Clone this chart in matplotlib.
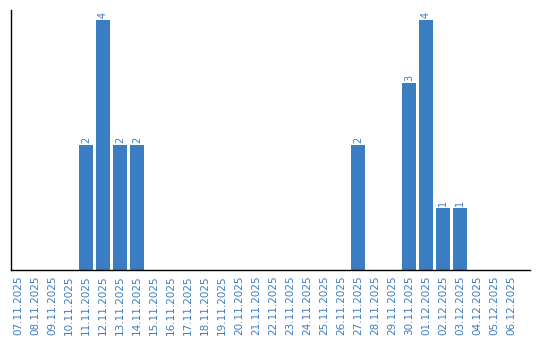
import pandas as pd
import matplotlib
matplotlib.use("Agg")
import matplotlib.pyplot as plt

# 日期标签与数值
dates = pd.date_range("2025-11-07", "2025-12-06").strftime("%d.%m.%Y").tolist()
counts = [0, 0, 0, 0, 2, 4, 2, 2, 0, 0,
          0, 0, 0, 0, 0, 0, 0, 0, 0, 0,
          2, 0, 0, 3, 4, 1, 1, 0, 0, 0]

bar_color = "#3b7dc1"

fig = plt.figure(figsize=(5.4, 3.4), dpi=100)
ax = fig.add_axes([11 / 540, 70 / 340, 519 / 540, 260 / 340])

x = list(range(len(dates)))
ax.bar(x, counts, width=0.82, color=bar_color)

# 柱顶数值
for xi, v in zip(x, counts):
    if v > 0:
        ax.text(xi, v + 0.03, str(v), rotation=90, ha="center", va="bottom",
                fontsize=7, color=bar_color)

ax.set_xlim(-0.41, 30.12)
ax.set_ylim(0, 4.16)
ax.set_xticks(x)
ax.set_xticklabels(dates, rotation=90, fontsize=7.5, color=bar_color)
ax.set_yticks([])
ax.tick_params(axis="x", length=0, pad=4)

ax.spines["top"].set_visible(False)
ax.spines["right"].set_visible(False)
ax.spines["left"].set_linewidth(1.0)
ax.spines["bottom"].set_linewidth(1.0)

fig.savefig("out.png", dpi=100)
